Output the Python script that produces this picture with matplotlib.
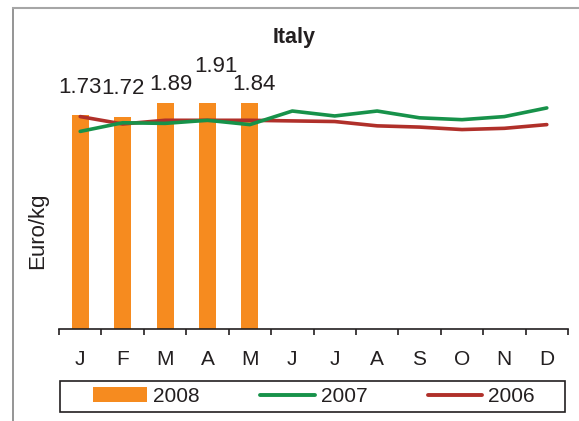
import matplotlib
matplotlib.use("Agg")
import matplotlib.pyplot as plt
from matplotlib.lines import Line2D
from matplotlib.patches import Patch, Rectangle

plt.rcParams['font.family'] = ['Liberation Sans', 'DejaVu Sans']

# data (Euro/kg)
months = ['J', 'F', 'M', 'A', 'M', 'J', 'J', 'A', 'S', 'O', 'N', 'D']
prices_2008 = [1.73, 1.72, 1.89, 1.91, 1.84]
prices_2007 = [1.60, 1.67, 1.665, 1.69, 1.655, 1.765, 1.725, 1.765, 1.71, 1.695, 1.72, 1.79]
prices_2006 = [1.72, 1.66, 1.69, 1.69, 1.69, 1.685, 1.68, 1.645, 1.635, 1.615, 1.625, 1.655]

# per-label nudges in pixels (dx, dy up), copied from the layout of the original
label_nudge = [(0, 28), (0, 28), (6, 18), (8, 36), (4, 18)]

orange = '#F68B1F'
green = '#17924A'
red = '#B0302A'
text_col = '#231F20'
ymax = 1.83

W, H = 579, 421
fig = plt.figure(figsize=(W / 100, H / 100), dpi=100)
ax = fig.add_axes([59 / W, 1 - 329 / H, (568 - 59) / W, (329 - 103) / H])

x = list(range(len(months)))
ax.bar(x[:len(prices_2008)], prices_2008, width=0.4, color=orange, zorder=1)
ax.plot(x, prices_2007, color=green, lw=2.6, solid_capstyle='round', zorder=3)
ax.plot(x, prices_2006, color=red, lw=2.6, solid_capstyle='round', zorder=2)

for i, v in enumerate(prices_2008):
    dx, dy = label_nudge[i]
    ax.annotate('%.2f' % v, (i, min(v, ymax)), xytext=(dx * 0.72, dy * 0.72),
                textcoords='offset points', ha='center', va='center',
                fontsize=16, color=text_col, annotation_clip=False)

ax.set_xlim(-0.5, len(months) - 0.5)
ax.set_ylim(0, ymax)
ax.set_yticks([])
for s in ['left', 'right', 'top']:
    ax.spines[s].set_visible(False)
ax.spines['bottom'].set_color(text_col)
ax.spines['bottom'].set_linewidth(1.2)

ax.set_xticks(x)
ax.set_xticklabels(months, fontsize=15, color=text_col)
ax.set_xticks([i - 0.5 for i in range(len(months) + 1)], minor=True)
ax.tick_params(axis='x', which='major', length=0, pad=15)
ax.tick_params(axis='x', which='minor', length=4.5, width=1.2, color=text_col)

fig.text(294 / W, 1 - 37 / H, 'Italy', ha='center', va='center',
         fontsize=15.5, fontweight='bold', color=text_col)
fig.text(37.5 / W, 1 - 231 / H, 'Euro/kg', ha='center', va='center',
         rotation=90, fontsize=16, color=text_col)

# legend: items without frame, frame drawn as its own box
handles = [Patch(facecolor=orange, edgecolor='none'),
           Line2D([], [], color=green, lw=2.8, solid_capstyle='round'),
           Line2D([], [], color=red, lw=2.8, solid_capstyle='round')]
leg = fig.legend(handles, ['2008', '2007', '2006'], ncol=3, loc='center',
                 bbox_to_anchor=(314 / W, 1 - 396.5 / H), fontsize=15,
                 frameon=False, handlelength=2.6, handleheight=0.7,
                 handletextpad=0.3, columnspacing=2.9,
                 borderpad=0, borderaxespad=0)
for t in leg.get_texts():
    t.set_color(text_col)
fig.add_artist(Rectangle((60 / W, 1 - 412 / H), (565 - 60) / W, 31 / H,
                         facecolor='none', edgecolor=text_col, lw=1.2))

# outer frame of the original picture (left and top edges)
fig.add_artist(Line2D([13 / W, 13 / W], [0, 1 - 8 / H], color='#8C8C8C', lw=1.3))
fig.add_artist(Line2D([13 / W, 1], [1 - 8 / H, 1 - 8 / H], color='#A6A6A6', lw=1.5))

fig.savefig('out.png', dpi=100)
